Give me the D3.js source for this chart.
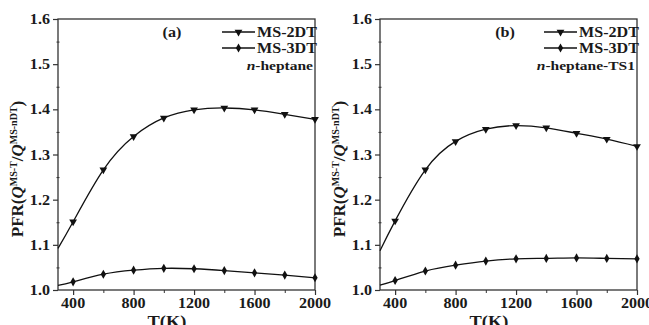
<!DOCTYPE html>
<html>
<head>
<meta charset="utf-8">
<script src="https://cdn.jsdelivr.net/npm/d3@7"></script>
<style>
  body { margin: 0; background: #fff; }
  svg text { font-family: "Liberation Serif", "Times New Roman", serif; font-weight: bold; fill: #1a1a1a; }
</style>
</head>
<body>
<svg id="chart" width="649" height="325"></svg>
<script>
// temperatures (K); first point is the curve start, markers from 400 on
var temps = [300, 400, 600, 800, 1000, 1200, 1400, 1600, 1800, 2000];
var heptane_2dt = [1.092, 1.151, 1.266, 1.340, 1.381, 1.399, 1.403, 1.399, 1.389, 1.378];
var heptane_3dt = [1.010, 1.018, 1.035, 1.044, 1.048, 1.047, 1.043, 1.038, 1.033, 1.027];
var ts1_2dt = [1.087, 1.153, 1.266, 1.329, 1.356, 1.364, 1.359, 1.347, 1.334, 1.318];
var ts1_3dt = [1.011, 1.021, 1.042, 1.055, 1.064, 1.069, 1.070, 1.071, 1.070, 1.069];

var xMajor = [400, 800, 1200, 1600, 2000];
var xMinor = [600, 1000, 1400, 1800];
var yMajor = [1.0, 1.1, 1.2, 1.3, 1.4, 1.5, 1.6];
var yMinor = [1.05, 1.15, 1.25, 1.35, 1.45, 1.55];

var seriesNames = ["MS-2DT", "MS-3DT"];

var panels = [
  {left: 58, label: "(a)", labelX: 172, note: "heptane", s2: heptane_2dt, s3: heptane_3dt},
  {left: 380, label: "(b)", labelX: 505, note: "heptane-TS1", s2: ts1_2dt, s3: ts1_3dt}
];

var svg = d3.select("#chart");
var plotW = 257, plotTop = 19, plotBottom = 290;

var triangle = d3.symbol().type(d3.symbolTriangle).size(26);
var diamond = d3.symbol().type(d3.symbolDiamond).size(24);

// squashed-looking serif text of the original figure: wider than tall
function stretchedText(g, x, y, str, size, anchor) {
  return g.append("text")
    .attr("transform", `translate(${x},${y}) scale(1.15,1)`)
    .attr("text-anchor", anchor || "start")
    .style("font-size", size + "px")
    .text(str);
}

panels.forEach(function(p) {
  var x = d3.scaleLinear().domain([300, 2000]).range([p.left, p.left + plotW]);
  var y = d3.scaleLinear().domain([1.0, 1.6]).range([plotBottom, plotTop]);
  var g = svg.append("g");

  // frame
  g.append("rect")
    .attr("x", p.left).attr("y", plotTop)
    .attr("width", plotW).attr("height", plotBottom - plotTop)
    .attr("fill", "none").attr("stroke", "#333").attr("stroke-width", 1.3);

  // y axis
  var yAx = g.append("g").attr("transform", `translate(${p.left},0)`)
    .call(d3.axisLeft(y).tickValues(yMajor).tickSize(5).tickFormat(""));
  yAx.select(".domain").remove();
  yAx.selectAll("line").attr("stroke", "#333").attr("stroke-width", 1.2);
  yMajor.forEach(function(v) {
    stretchedText(g, p.left - 8, y(v) + 5, d3.format(".1f")(v), 14, "end");
  });
  var yMin = g.append("g").attr("transform", `translate(${p.left + 1.5},0)`)
    .call(d3.axisLeft(y).tickValues(yMinor).tickSize(3).tickFormat(""));
  yMin.select(".domain").remove();
  yMin.selectAll("line").attr("stroke", "#333");

  // x axis
  var xAx = g.append("g").attr("transform", `translate(0,${plotBottom})`)
    .call(d3.axisBottom(x).tickValues(xMajor).tickSize(5).tickFormat(""));
  xAx.select(".domain").remove();
  xAx.selectAll("line").attr("stroke", "#333").attr("stroke-width", 1.2);
  xMajor.forEach(function(v) {
    stretchedText(g, x(v), 308, String(v), 14, "middle");
  });
  var xMin = g.append("g").attr("transform", `translate(0,${plotBottom})`)
    .call(d3.axisBottom(x).tickValues(xMinor).tickSize(3).tickFormat(""));
  xMin.select(".domain").remove();
  xMin.selectAll("line").attr("stroke", "#333");

  // axis titles
  stretchedText(g, p.left + 109, 327, "T(K)", 16, "middle");
  var yt = g.append("text")
    .attr("transform", `translate(${p.left - 35},169) rotate(-90)`)
    .attr("text-anchor", "middle")
    .style("font-size", "17px");
  yt.append("tspan").text("PFR(");
  yt.append("tspan").style("font-style", "italic").text("Q");
  yt.append("tspan").attr("dy", -6).style("font-size", "10px").text("MS-T");
  yt.append("tspan").attr("dy", 6).text("/");
  yt.append("tspan").style("font-style", "italic").text("Q");
  yt.append("tspan").attr("dy", -6).style("font-size", "10px").text("MS-nDT");
  yt.append("tspan").attr("dy", 6).text(")");

  // curves
  var line = d3.line()
    .x(function(d, i) { return x(temps[i]); })
    .y(function(d) { return y(d); })
    .curve(d3.curveNatural);
  [p.s2, p.s3].forEach(function(s, k) {
    g.append("path").datum(s)
      .attr("d", line)
      .attr("fill", "none").attr("stroke", "#111").attr("stroke-width", 1.3);
    g.selectAll(null).data(s.slice(1)).enter().append("path")
      .attr("d", k === 0 ? triangle : diamond)
      .attr("transform", function(d, i) {
        return `translate(${x(temps[i + 1])},${y(d)})` + (k === 0 ? " rotate(180)" : "");
      })
      .attr("fill", "#111");
  });

  // legend
  var lx = p.left + 164, rows = [32, 48];
  seriesNames.forEach(function(name, k) {
    g.append("line")
      .attr("x1", lx).attr("x2", lx + 33)
      .attr("y1", rows[k]).attr("y2", rows[k])
      .attr("stroke", "#111").attr("stroke-width", 1.3);
    g.append("path")
      .attr("d", k === 0 ? triangle : diamond)
      .attr("transform", `translate(${lx + 16.5},${rows[k]})` + (k === 0 ? " rotate(180)" : ""))
      .attr("fill", "#111");
    stretchedText(g, lx + 35, rows[k] + 5, name, 14, "start");
  });
  var note = stretchedText(g, p.left + 255, 70, "", 13.5, "end");
  note.append("tspan").style("font-style", "italic").text("n");
  note.append("tspan").text("-" + p.note);

  stretchedText(g, p.labelX, 37, p.label, 14, "middle");
});
</script>
</body>
</html>
